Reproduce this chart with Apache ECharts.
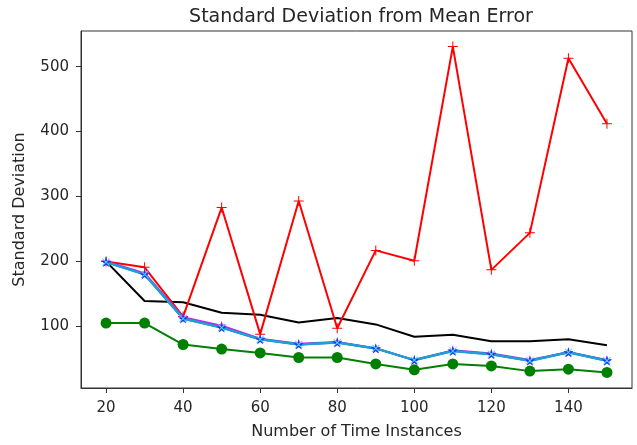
<!DOCTYPE html>
<html><head><meta charset="utf-8">
<script src="https://cdn.jsdelivr.net/npm/echarts@6/dist/echarts.min.js"></script>
<style>html,body{margin:0;padding:0;background:#fff}#c{width:637px;height:445px}</style>
</head><body><div id="c"></div>
<script>
const xVals = [20,30,40,50,60,70,80,90,100,110,120,130,140,150];
const redVals = [200,191,115,283,88,293,97,217,201,531,187,244,513,412];
const blackVals = [200,139,137,121,118,106,113,103,84,87,77,77,80,71];
const greenVals = [105,105,72,65,59,52,52,42,33,42,39,31,34,29];
const magentaVals = [200,182,114,101,81,73,76,66,48,63,58,48,60,48];
const blueVals = [199,180,112,98,80,72,75,66,48,62,57,47,60,47];
const cyanVals = [199,180,112,98,80,72,75,66,48,62,57,47,60,47];
const xTicks = [20,40,60,80,100,120,140];
const yTicks = [100,200,300,400,500];

const pair = arr => xVals.map((x,i)=>[x,arr[i]]);
const PLUS = 'path://M4.5,0h1v10h-1zM0,4.5h10v1h-10z';
const STAR = 'path://M50,0 L61,35 L98,35 L68,57 L79,91 L50,70 L21,91 L32,57 L2,35 L39,35 Z';
const font = 'DejaVu Sans';
const txt = '#262626';

function line(name, data, color, width, symbol, size, extra) {
  return Object.assign({
    name, type:'line', data: pair(data), symbol, symbolSize:size,
    showSymbol: symbol !== 'none',
    lineStyle:{color, width}, itemStyle:{color, opacity:1},
    emphasis:{disabled:true}, animation:false
  }, extra||{});
}

const chart = echarts.init(document.getElementById('c'), null, {renderer:'canvas'});
chart.setOption({
  backgroundColor:'#fff',
  animation:false,
  title:{text:'Standard Deviation from Mean Error', left:356, top:3, textAlign:'center',
    textStyle:{fontFamily:font, fontSize:19, fontWeight:'normal', color:txt}},
  grid:{left:81, right:5, top:31, bottom:56, show:true, borderColor:'#333', borderWidth:1, backgroundColor:'transparent'},
  xAxis:{type:'value', min:13.5, max:156.5,
    name:'Number of Time Instances', nameLocation:'middle', nameGap:36,
    nameTextStyle:{fontFamily:font, fontSize:16, color:txt},
    axisLine:{show:true, lineStyle:{color:'#333', width:1}},
    axisTick:{show:true, length:5, customValues:xTicks, lineStyle:{color:'#333'}},
    axisLabel:{customValues:xTicks, fontFamily:font, fontSize:15, color:txt, margin:13},
    splitLine:{show:false}},
  yAxis:{type:'value', min:5, max:555,
    name:'Standard Deviation', nameLocation:'middle', nameGap:53,
    nameTextStyle:{fontFamily:font, fontSize:16, color:txt},
    axisLine:{show:true, lineStyle:{color:'#333', width:1}},
    axisTick:{show:true, length:5, customValues:yTicks, lineStyle:{color:'#333'}},
    axisLabel:{customValues:yTicks, fontFamily:font, fontSize:15, color:txt, margin:12},
    splitLine:{show:false}},
  series:[
    line('black', blackVals, '#000000', 2, 'none', 0),
    line('green', greenVals, '#008000', 2, 'circle', 11),
    line('red', redVals, '#ff0000', 2, PLUS, 10),
    line('magenta', magentaVals, '#cc22ee', 2, STAR, 10),
    line('blue', blueVals, '#2233ee', 2, STAR, 10),
    line('cyan', cyanVals, '#1fa0d0', 2.5, PLUS, 10, {symbolRotate:45, itemStyle:{color:'#40e0e8'}})
  ]
});
</script></body></html>
